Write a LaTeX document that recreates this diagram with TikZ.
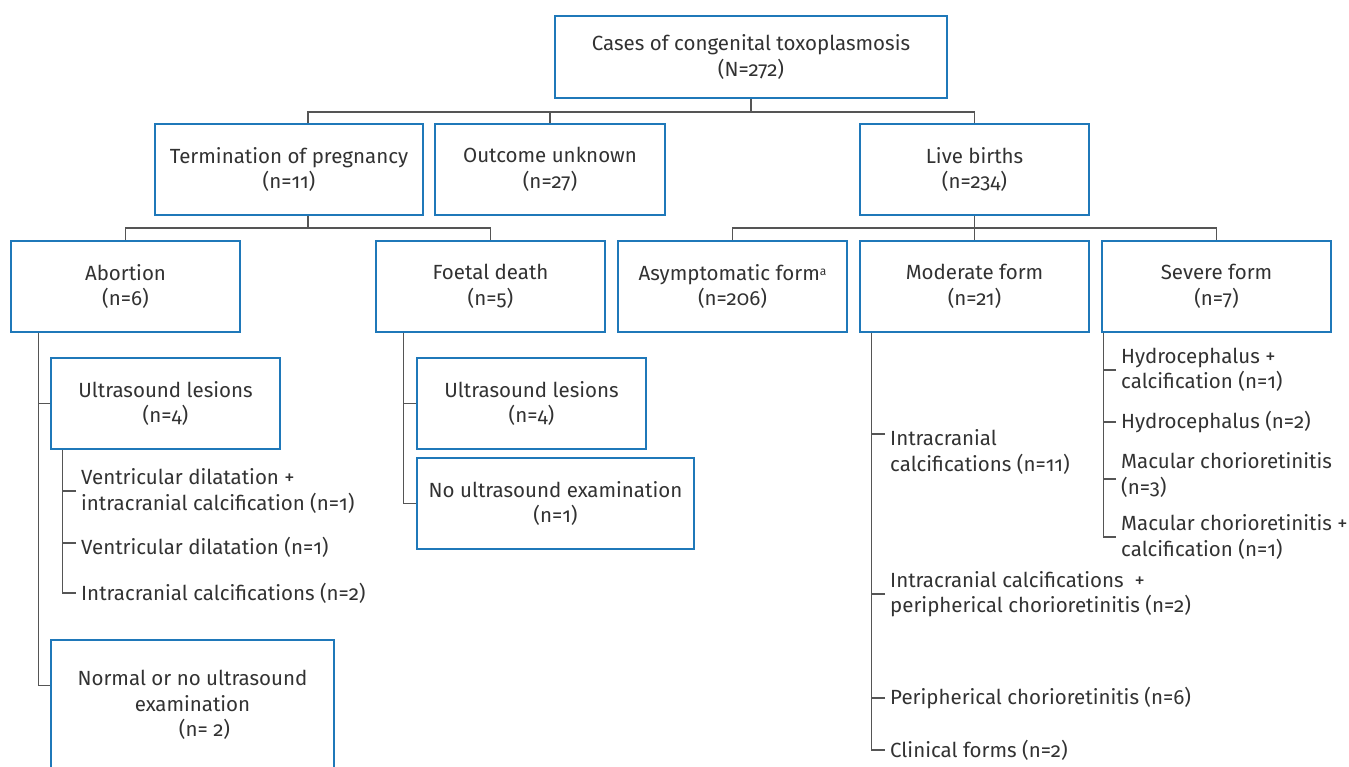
\documentclass[tikz,border=0pt]{standalone}
\usepackage{fontspec}
\setmainfont[Numbers=OldStyle,RawFeature=+onum]{Fira Sans}
\usepackage{xcolor}
\usepackage{tikz}
\usetikzlibrary{positioning, calc}

\definecolor{boxblue}{RGB}{31,120,185}
\definecolor{linegray}{RGB}{85,85,85}
\definecolor{txtgray}{RGB}{50,50,50}

\begin{document}
\begin{tikzpicture}[x=1pt,y=-1pt,
  box/.style={draw=boxblue, line width=1.3pt, minimum width=229pt, minimum height=91pt,
    align=center, text=txtgray, inner sep=0pt, font=\fontsize{20.5}{25.5}\selectfont},
  lbl/.style={anchor=west, align=left, text=txtgray, inner xsep=5pt, inner ysep=0pt,
    font=\fontsize{20.5}{25.5}\selectfont},
  conn/.style={draw=linegray, line width=1.3pt}]
\useasboundingbox (0,0) rectangle (1349,766);
\clip (0,0) rectangle (1349,766);

% Define nodes
\node[box, minimum width=392pt, minimum height=82pt] (root) at (751,57) {Cases of congenital toxoplasmosis\\(N=272)};
\node[box, minimum width=268pt] (term) at (289,169.5) {Termination of pregnancy\\(n=11)};
\node[box, minimum width=230pt] (outc) at (550,169.5) {Outcome unknown\\(n=27)};
\node[box] (live) at (974.5,169.5) {Live births\\(n=234)};

\node[box] (abort) at (125.5,286.5) {Abortion\\(n=6)};
\node[box] (foet) at (490.5,286.5) {Foetal death\\(n=5)};
\node[box] (asym) at (732.5,286.5) {Asymptomatic form\raisebox{5pt}{\fontsize{12}{12}\selectfont a}\\(n=206)};
\node[box] (moder) at (974.5,286.5) {Moderate form\\(n=21)};
\node[box] (sev) at (1216.5,286.5) {Severe form\\(n=7)};

\node[box] (usA) at (165.5,403.5) {Ultrasound lesions\\(n=4)};
\node[box, minimum width=283pt, minimum height=130pt] (norm) at (192.5,705) {Normal or no ultrasound\\examination\\\hspace*{24pt}(n= 2)};
\node[box] (usF) at (531.5,403.5) {Ultrasound lesions\\(n=4)};
\node[box, minimum width=277pt] (nous) at (555.5,503.5) {No ultrasound examination\\(n=1)};

\node[lbl] (a1) at (76,491) {Ventricular dilatation +\\intracranial calcification (n=1)};
\node[lbl] (a2) at (76,547) {Ventricular dilatation (n=1)};
\node[lbl] (a3) at (76,593) {Intracranial calcifications (n=2)};

\node[lbl] (m1) at (885,452) {Intracranial\\calcifications (n=11)};
\node[lbl] (m2) at (885,594) {Intracranial calcifications~~+\\peripherical chorioretinitis (n=2)};
\node[lbl] (m3) at (885,698) {Peripherical chorioretinitis (n=6)};
\node[lbl] (m4) at (885,750) {Clinical forms (n=2)};

\node[lbl] (s1) at (1116,370) {Hydrocephalus +\\calcification (n=1)};
\node[lbl] (s2) at (1116,422) {Hydrocephalus (n=2)};
\node[lbl] (s3) at (1116,475) {Macular chorioretinitis\\(n=3)};
\node[lbl] (s4) at (1116,537) {Macular chorioretinitis +\\calcification (n=1)};

% Trunk points
\coordinate (bus1) at (0,112);
\coordinate (bus2) at (0,228);
\coordinate (ttop) at ([xshift=19pt]term.north);
\coordinate (tbot) at ([xshift=19pt]term.south);
\coordinate (at) at ([xshift=28pt]abort.south west);
\coordinate (ut) at ([xshift=12pt]usA.south west);
\coordinate (ft) at ([xshift=28pt]foet.south west);
\coordinate (mt) at ([xshift=12pt]moder.south west);
\coordinate (st) at ([xshift=2pt]sev.south west);

% Connect the nodes
\draw[conn] (root.south) -- (root.south |- bus1);
\draw[conn] (ttop) |- (bus1 -| live.north) -- (live.north);
\draw[conn] (outc.north) -- (outc.north |- bus1);

\draw[conn] (tbot) -- (tbot |- bus2);
\draw[conn] (abort.north) |- (bus2 -| foet.north) -- (foet.north);
\draw[conn] (asym.north) |- (bus2 -| sev.north) -- (sev.north);
\draw[conn] (live.south) -- (moder.north);

\draw[conn] (at) |- ([yshift=-46pt]norm.north west);
\draw[conn] (usA.west) -- (usA.west -| at);

\draw[conn] (ut) |- (a3.west);
\draw[conn] (a1.west) -- (a1.west -| ut);
\draw[conn] ([yshift=4pt]a2.west) -- ([yshift=4pt]a2.west -| ut);

\draw[conn] (ft) |- (nous.west);
\draw[conn] (usF.west) -- (usF.west -| ft);

\draw[conn] (mt) |- (m4.west);
\draw[conn] ([yshift=18pt]m1.west) -- ([yshift=18pt]m1.west -| mt);
\draw[conn] (m2.west) -- (m2.west -| mt);
\draw[conn] (m3.west) -- (m3.west -| mt);

\draw[conn] (st) |- (s4.west);
\draw[conn] (s1.west) -- (s1.west -| st);
\draw[conn] (s2.west) -- (s2.west -| st);
\draw[conn] ([yshift=-4pt]s3.west) -- ([yshift=-4pt]s3.west -| st);
\end{tikzpicture}
\end{document}
